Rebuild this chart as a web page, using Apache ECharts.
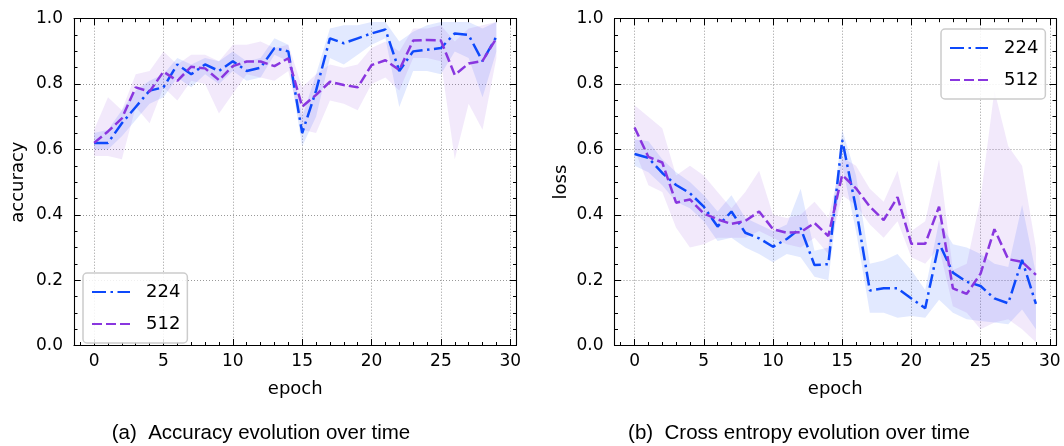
<!DOCTYPE html>
<html><head><meta charset="utf-8">
<script src="https://cdn.jsdelivr.net/npm/echarts@6/dist/echarts.min.js"></script>
<style>html,body{margin:0;padding:0;background:#fff}#c{width:1064px;height:446px}</style>
</head><body><div id="c"></div>
<script>
// ---- data ----
const epochs = [0,1,2,3,4,5,6,7,8,9,10,11,12,13,14,15,16,17,18,19,20,21,22,23,24,25,26,27,28,29];
const yTicks = [0.0,0.2,0.4,0.6,0.8,1.0];
const xTicks = [0,5,10,15,20,25,30];
const seriesNames = ['224','512'];

const acc224   = [0.62,0.62,0.68,0.73,0.78,0.79,0.86,0.83,0.86,0.84,0.87,0.84,0.85,0.91,0.90,0.65,0.78,0.94,0.925,0.94,0.955,0.967,0.84,0.90,0.905,0.91,0.955,0.95,0.87,0.945];
const acc224Lo = [0.60,0.60,0.64,0.69,0.74,0.76,0.82,0.79,0.83,0.80,0.84,0.81,0.82,0.89,0.87,0.61,0.70,0.88,0.86,0.89,0.92,0.94,0.73,0.84,0.84,0.83,0.90,0.88,0.76,0.90];
const acc224Hi = [0.65,0.66,0.72,0.78,0.81,0.83,0.88,0.86,0.88,0.87,0.90,0.87,0.88,0.94,0.92,0.70,0.83,0.97,0.98,0.98,0.99,0.99,0.93,0.96,0.98,0.99,0.99,0.99,0.97,0.99];

const acc512   = [0.62,0.655,0.695,0.79,0.777,0.838,0.81,0.853,0.848,0.812,0.855,0.869,0.869,0.855,0.879,0.731,0.767,0.807,0.797,0.79,0.858,0.873,0.843,0.933,0.935,0.933,0.828,0.863,0.871,0.94];
const acc512Lo = [0.58,0.58,0.57,0.73,0.68,0.79,0.75,0.81,0.80,0.71,0.77,0.83,0.82,0.81,0.84,0.66,0.65,0.75,0.74,0.72,0.80,0.82,0.78,0.88,0.88,0.87,0.57,0.74,0.66,0.88];
const acc512Hi = [0.66,0.76,0.72,0.83,0.84,0.90,0.86,0.89,0.89,0.87,0.92,0.92,0.93,0.91,0.92,0.79,0.83,0.86,0.85,0.86,0.91,0.93,0.90,0.97,0.97,0.98,0.93,0.97,0.98,0.99];

const loss224   = [0.586,0.574,0.528,0.491,0.466,0.425,0.364,0.41,0.345,0.328,0.302,0.326,0.359,0.246,0.249,0.629,0.42,0.168,0.175,0.175,0.144,0.114,0.313,0.223,0.195,0.182,0.144,0.129,0.262,0.127];
const loss224Lo = [0.55,0.53,0.49,0.44,0.42,0.38,0.32,0.33,0.30,0.28,0.255,0.28,0.27,0.21,0.20,0.55,0.35,0.10,0.10,0.085,0.09,0.085,0.14,0.10,0.08,0.075,0.07,0.065,0.11,0.05];
const loss224Hi = [0.63,0.625,0.57,0.53,0.50,0.46,0.41,0.46,0.39,0.37,0.35,0.37,0.48,0.29,0.30,0.66,0.52,0.25,0.26,0.28,0.23,0.17,0.38,0.31,0.30,0.28,0.25,0.24,0.43,0.22];

const loss512   = [0.667,0.577,0.56,0.437,0.447,0.404,0.386,0.372,0.381,0.41,0.356,0.345,0.347,0.375,0.335,0.522,0.481,0.425,0.384,0.454,0.311,0.311,0.425,0.175,0.158,0.22,0.356,0.264,0.256,0.216];
const loss512Lo = [0.60,0.49,0.47,0.36,0.30,0.31,0.33,0.33,0.33,0.35,0.33,0.31,0.30,0.33,0.28,0.46,0.43,0.37,0.33,0.38,0.27,0.25,0.30,0.12,0.10,0.05,0.07,0.08,0.05,0.01];
const loss512Hi = [0.735,0.70,0.665,0.52,0.55,0.52,0.47,0.42,0.47,0.535,0.40,0.39,0.40,0.44,0.39,0.575,0.55,0.48,0.44,0.535,0.35,0.38,0.57,0.23,0.25,0.45,0.78,0.61,0.55,0.30];

// ---- style ----
const C224 = '#0d49fb', C512 = '#8936df';
const F224 = 'rgba(13,73,251,0.12)', F512 = 'rgba(137,54,223,0.11)';
const DASHDOT = [14,4.5,2.5,4.5], DASHED = [10,4];
const FONT = 'DejaVu Sans';
const XMIN = -1.45, XMAX = 30.45;

const grids = [
  {left: 74, top: 18.7, width: 442.5, height: 326.8},
  {left: 614.5, top: 18.7, width: 441.5, height: 326.8}
];

const xAxes = [], yAxes = [];
const frameLine = {show: true, onZero: false, lineStyle: {color: '#000', width: 1.1}};
const noLine = {show: false, onZero: false};
grids.forEach((g, gi) => {
  xAxes.push({
    type: 'value', gridIndex: gi, position: 'bottom', min: XMIN, max: XMAX, splitNumber: 6,
    axisLine: frameLine,
    axisTick: {show: true, inside: true, length: 6.5, lineStyle: {color: '#000', width: 1}},
    axisLabel: {show: true, margin: 8, color: '#000', fontSize: 17, fontFamily: FONT,
      formatter: v => (xTicks.some(t => Math.abs(t - v) < 1e-6) ? String(Math.round(v)) : '')},
    splitLine: {show: true, lineStyle: {color: '#999', width: 1, type: [1, 2]}},
    name: 'epoch', nameLocation: 'middle', nameGap: 35,
    nameTextStyle: {fontSize: 18, fontFamily: FONT, color: '#000'}
  });
  xAxes.push({
    type: 'value', gridIndex: gi, position: 'top', min: XMIN, max: XMAX, splitNumber: 6,
    axisLine: frameLine,
    axisTick: {show: true, inside: true, length: 6.5, lineStyle: {color: '#000', width: 1}},
    axisLabel: {show: false}, splitLine: {show: false}
  });
  ['bottom', 'top'].forEach(p => xAxes.push({
    type: 'value', gridIndex: gi, position: p, min: XMIN, max: XMAX, splitNumber: 32,
    axisLine: noLine,
    axisTick: {show: true, inside: true, length: 3.5, lineStyle: {color: '#000', width: 1}},
    axisLabel: {show: false}, splitLine: {show: false}
  }));
  yAxes.push({
    type: 'value', gridIndex: gi, position: 'left', min: 0, max: 1, interval: 0.2,
    axisLine: frameLine,
    axisTick: {show: true, inside: true, length: 6.5, lineStyle: {color: '#000', width: 1}},
    minorTick: {show: true, splitNumber: 4, length: 3.5, lineStyle: {color: '#000', width: 1}},
    axisLabel: {show: true, margin: 11, color: '#000', fontSize: 17, fontFamily: FONT,
      formatter: v => v.toFixed(1)},
    splitLine: {show: true, lineStyle: {color: '#999', width: 1, type: [1, 2]}},
    name: gi === 0 ? 'accuracy' : 'loss', nameLocation: 'middle', nameGap: gi === 0 ? 47 : 44,
    nameTextStyle: {fontSize: 18, fontFamily: FONT, color: '#000'}
  });
  yAxes.push({
    type: 'value', gridIndex: gi, position: 'right', min: 0, max: 1, interval: 0.2,
    axisLine: frameLine,
    axisTick: {show: true, inside: true, length: 6.5, lineStyle: {color: '#000', width: 1}},
    minorTick: {show: true, splitNumber: 4, length: 3.5, lineStyle: {color: '#000', width: 1}},
    axisLabel: {show: false}, splitLine: {show: false}
  });
});

function band(name, gi, lo, hi, fill) {
  return {
    type: 'custom', name: name, xAxisIndex: gi * 4, yAxisIndex: gi * 2, silent: true, z: 1, clip: true,
    data: epochs.map((e, i) => [e, lo[i], hi[i]]),
    encode: {x: 0, y: [1, 2]},
    renderItem: (params, api) => {
      if (params.dataIndex !== 0) return null;
      const pts = [];
      for (let i = 0; i < epochs.length; i++) pts.push(api.coord([epochs[i], hi[i]]));
      for (let i = epochs.length - 1; i >= 0; i--) pts.push(api.coord([epochs[i], lo[i]]));
      return {type: 'polygon', shape: {points: pts}, style: {fill: fill, stroke: null}};
    }
  };
}
function line(name, gi, vals, color, dash) {
  return {
    type: 'line', name: name, xAxisIndex: gi * 4, yAxisIndex: gi * 2, z: 3,
    data: epochs.map((e, i) => [e, vals[i]]), symbol: 'none', smooth: false,
    lineStyle: {color: color, width: 2.5, type: dash}, itemStyle: {color: color}
  };
}

const legendBase = {
  orient: 'vertical', data: seriesNames, itemWidth: 38, itemHeight: 14, itemGap: 14,
  padding: [10, 7, 10, 8], borderColor: '#cccccc', borderWidth: 1.5, borderRadius: 4,
  backgroundColor: 'rgba(255,255,255,0.85)', selectedMode: false,
  itemStyle: {color: 'rgba(0,0,0,0)', borderWidth: 0, opacity: 0},
  textStyle: {fontSize: 18, fontFamily: FONT, color: '#000', padding: [0, 0, 0, 11]}
};

const option = {
  animation: false,
  backgroundColor: '#fff',
  grid: grids,
  xAxis: xAxes,
  yAxis: yAxes,
  legend: [
    Object.assign({left: 83, top: 273}, legendBase),
    Object.assign({left: 941, top: 29}, legendBase)
  ],
  series: [
    band('band224a', 0, acc224Lo, acc224Hi, F224),
    band('band512a', 0, acc512Lo, acc512Hi, F512),
    line('224', 0, acc224, C224, DASHDOT),
    line('512', 0, acc512, C512, DASHED),
    band('band224b', 1, loss224Lo, loss224Hi, F224),
    band('band512b', 1, loss512Lo, loss512Hi, F512),
    line('224', 1, loss224, C224, DASHDOT),
    line('512', 1, loss512, C512, DASHED)
  ],
  graphic: [
    {type: 'text', style: {x: 261, y: 433, text: '(a)  Accuracy evolution over time', textAlign: 'center', textVerticalAlign: 'middle', font: '20.5px "Liberation Sans"', fill: '#000'}},
    {type: 'text', style: {x: 799, y: 433, text: '(b)  Cross entropy evolution over time', textAlign: 'center', textVerticalAlign: 'middle', font: '20.5px "Liberation Sans"', fill: '#000'}}
  ]
};
const chart = echarts.init(document.getElementById('c'), null, {renderer: 'canvas'});
chart.setOption(option);
</script></body></html>
